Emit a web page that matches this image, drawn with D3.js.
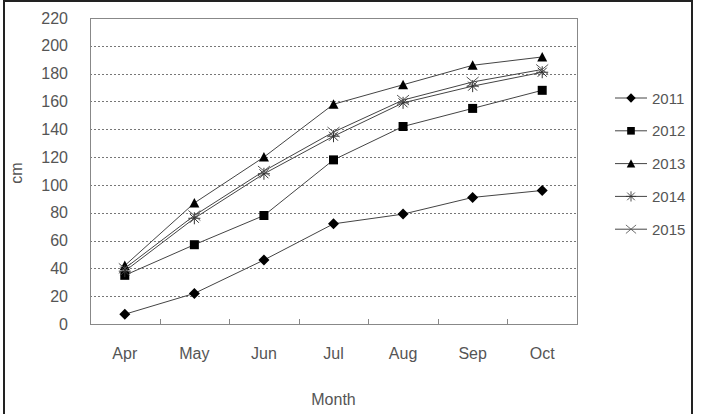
<!DOCTYPE html>
<html>
<head>
<meta charset="utf-8">
<script src="https://cdn.jsdelivr.net/npm/d3@7"></script>
<style>
  body { margin: 0; background: #fff; }
  text { font-family: "Liberation Sans", Arial, sans-serif; fill: #555; }
</style>
</head>
<body>
<svg id="chart" width="706" height="414"></svg>
<script>
// data
const months = ["Apr", "May", "Jun", "Jul", "Aug", "Sep", "Oct"];
const years = ["2011", "2012", "2013", "2014", "2015"];
const v2011 = [7, 22, 46, 72, 79, 91, 96];
const v2012 = [35, 57, 78, 118, 142, 155, 168];
const v2013 = [42, 87, 120, 158, 172, 186, 192];
const v2014 = [38, 76, 108, 135, 159, 171, 181];
const v2015 = [40, 78, 110, 138, 161, 174, 183];
const yTicks = [0, 20, 40, 60, 80, 100, 120, 140, 160, 180, 200, 220];

const series = [v2011, v2012, v2013, v2014, v2015].map((values, i) => ({ name: years[i], values }));

const svg = d3.select("#chart");
const m = { left: 90, top: 18, right: 577, bottom: 324 };

// outer frame
svg.append("rect")
  .attr("x", 4).attr("y", 1).attr("width", 688).attr("height", 430)
  .attr("fill", "none").attr("stroke", "#222").attr("stroke-width", 2);

const x = d3.scaleBand().domain(months).range([m.left, m.right]);
const y = d3.scaleLinear().domain([0, 220]).range([m.bottom, m.top]);

// gridlines
svg.append("g")
  .selectAll("line")
  .data(yTicks.filter(d => d > 0 && d < 220))
  .join("line")
  .attr("x1", m.left).attr("x2", m.right)
  .attr("y1", d => Math.round(y(d)) + 0.5).attr("y2", d => Math.round(y(d)) + 0.5)
  .attr("stroke", "#777").attr("stroke-width", 1).attr("stroke-dasharray", "2,2");

// plot border
svg.append("rect")
  .attr("x", m.left + 0.5).attr("y", m.top + 0.5)
  .attr("width", m.right - m.left).attr("height", m.bottom - m.top)
  .attr("fill", "none").attr("stroke", "#888");

// y axis labels
const yAxis = svg.append("g")
  .attr("transform", `translate(${m.left},0)`)
  .call(d3.axisLeft(y).tickValues(yTicks).tickSize(0).tickPadding(22));
yAxis.select(".domain").remove();
yAxis.selectAll("text").attr("font-size", 16).style("font-family", "Liberation Sans, Arial").attr("fill", "#555");

// x axis: inward ticks at band boundaries, labels at centres
svg.append("g")
  .selectAll("line")
  .data(months.slice(1))
  .join("line")
  .attr("x1", d => Math.round(x(d)) + 0.5).attr("x2", d => Math.round(x(d)) + 0.5)
  .attr("y1", m.bottom).attr("y2", m.bottom - 5)
  .attr("stroke", "#888");

const xAxis = svg.append("g")
  .attr("transform", `translate(0,${m.bottom})`)
  .call(d3.axisBottom(x).tickSize(0).tickPadding(24));
xAxis.select(".domain").remove();
xAxis.selectAll("text").attr("font-size", 16).style("font-family", "Liberation Sans, Arial").attr("fill", "#555");

svg.append("text")
  .attr("x", (m.left + m.right) / 2).attr("y", 405)
  .attr("text-anchor", "middle").attr("font-size", 16)
  .text("Month");

svg.append("text")
  .attr("transform", `translate(22,173) rotate(-90)`)
  .attr("text-anchor", "middle").attr("font-size", 16)
  .text("cm");

// markers
const markers = [
  { path: "M0,-5.5L5.5,0L0,5.5L-5.5,0Z", fill: "#000", stroke: "none" },
  { path: "M-4.5,-4.5H4.5V4.5H-4.5Z", fill: "#000", stroke: "none" },
  { path: "M0,-5L5,4.5L-5,4.5Z", fill: "#000", stroke: "none" },
  { path: "M-6,0L6,0M0,-6L0,6M-4.5,-4.5L4.5,4.5M-4.5,4.5L4.5,-4.5", fill: "none", stroke: "#333" },
  { path: "M-6,-5L6,5M-6,5L6,-5", fill: "none", stroke: "#555" }
];

const cx = d => x(d) + x.bandwidth() / 2;
const line = d3.line().x((d, i) => cx(months[i])).y(d => y(d));

series.forEach((s, i) => {
  const g = svg.append("g");
  g.append("path")
    .attr("d", line(s.values))
    .attr("fill", "none").attr("stroke", "#444").attr("stroke-width", 1);
  g.selectAll("path.mk")
    .data(s.values)
    .join("path")
    .attr("class", "mk")
    .attr("transform", (d, j) => `translate(${cx(months[j])},${y(d)})`)
    .attr("d", markers[i].path)
    .attr("fill", markers[i].fill)
    .attr("stroke", markers[i].stroke);
});

// legend
const legend = svg.append("g").attr("transform", "translate(615,98)");
years.forEach((yr, i) => {
  const row = legend.append("g").attr("transform", `translate(0,${i * 32.8})`);
  row.append("line").attr("x1", 0).attr("x2", 32).attr("stroke", "#444");
  row.append("path").attr("transform", "translate(16,0) scale(0.85)")
    .attr("d", markers[i].path).attr("fill", markers[i].fill).attr("stroke", markers[i].stroke);
  row.append("text").attr("x", 37).attr("y", 5.5).attr("font-size", 15).text(yr);
});
</script>
</body>
</html>
